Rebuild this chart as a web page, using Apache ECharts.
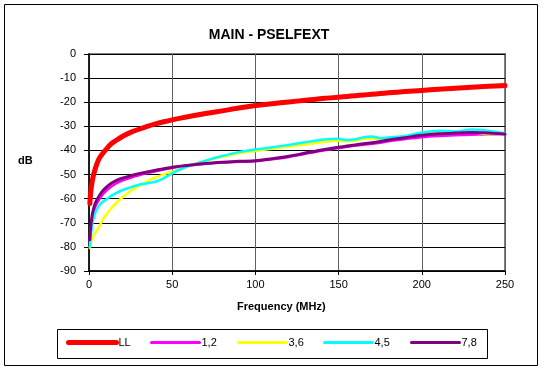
<!DOCTYPE html>
<html>
<head>
<meta charset="utf-8">
<script src="https://cdn.jsdelivr.net/npm/echarts@6/dist/echarts.min.js"></script>
<style>
html,body{margin:0;padding:0;background:#fff;}
#chart{width:543px;height:371px;}
</style>
</head>
<body>
<div id="chart"></div>
<script>
const freq = [0.5, 1, 2, 3, 4, 6, 8, 10, 13, 16, 20, 25, 30, 35, 40, 45, 50, 55, 60, 70, 80, 90, 100, 110, 120, 130, 140, 150, 155, 160, 165, 170, 175, 180, 190, 200, 210, 220, 230, 240, 250];
const ll = [-62, -57.5, -52.5, -49.5, -47, -43.5, -41.5, -39.8, -37.5, -36, -34.2, -32.5, -31.2, -30, -29, -28.1, -27.3, -26.6, -25.9, -24.7, -23.6, -22.4, -21.4, -20.6, -19.9, -19.2, -18.5, -17.9, -17.6, -17.3, -17.0, -16.7, -16.4, -16.1, -15.6, -15.1, -14.6, -14.2, -13.8, -13.4, -13.1];
const p12 = [-78, -73.5, -68, -65, -63, -60.5, -58.5, -57, -55.2, -53.8, -52.5, -51.3, -50.3, -49.4, -48.6, -47.9, -47.2, -46.7, -46.2, -45.5, -45, -44.7, -44.5, -43.7, -42.7, -41.4, -40.1, -39, -38.5, -38, -37.6, -37.2, -36.8, -36.2, -35.3, -34.5, -34, -33.7, -33.5, -33.3, -33.3];
const p36 = [-80.5, -78.5, -76.5, -75, -74, -71.8, -69, -67, -64.3, -62, -59.5, -56.8, -54.7, -52.8, -51.2, -49.9, -48.8, -47.6, -46.4, -44.3, -42.6, -41.2, -40.2, -39.3, -38.4, -37.5, -36.6, -36, -36.2, -36, -35.2, -35, -35.3, -35, -34.3, -33.2, -32.7, -32.6, -32.5, -33.2, -33];
const p45 = [-80, -76, -70.5, -67.5, -65.5, -63, -61.5, -60.5, -59, -57.8, -56.5, -55.3, -54.2, -53.6, -53, -51.5, -49.5, -47.8, -46.5, -44.2, -42.3, -40.7, -39.6, -38.7, -37.7, -36.6, -35.6, -35.2, -35.7, -35.4, -34.5, -34.2, -34.9, -34.6, -34, -32.6, -31.8, -32.1, -31.3, -31.8, -32.9];
const p78 = [-77, -72, -66.5, -63.5, -61.5, -59, -57, -55.5, -53.8, -52.6, -51.5, -50.5, -49.6, -48.9, -48.2, -47.6, -47, -46.5, -46.1, -45.4, -44.9, -44.5, -44.3, -43.4, -42.4, -41.1, -39.8, -38.7, -38.2, -37.7, -37.2, -36.8, -36.3, -35.7, -34.7, -33.7, -33.1, -32.8, -32.6, -32.8, -33.2];
const seriesNames = ['LL', '1,2', '3,6', '4,5', '7,8'];
const seriesValues = [ll, p12, p36, p45, p78];
const colors = ['#ff0000', '#ff00ff', '#ffff00', '#00ffff', '#800080'];
const widths = [5, 2.5, 2.5, 2.5, 3];
const legendWidths = [5, 3, 3, 3, 3];
const legendLeft = [66, 150, 237, 323, 410];
const xTicks = [0, 250, 50];
const yTicks = [-90, 0, 10];

const chart = echarts.init(document.getElementById('chart'), null, {renderer: 'canvas'});
const font = 'Arial, "Liberation Sans", sans-serif';

const series = seriesNames.map((name, i) => ({
  name: name,
  type: 'line',
  data: freq.map((f, j) => [f, seriesValues[i][j]]),
  smooth: 0.3,
  symbol: 'none',
  lineStyle: {color: colors[i], width: widths[i], cap: 'round', join: 'round'},
  itemStyle: {color: colors[i]},
  animation: false,
  z: 3 + i
}));

const legends = seriesNames.map((name, i) => ({
  data: [name],
  left: legendLeft[i],
  top: 337,
  itemWidth: 48,
  itemHeight: 12,
  itemGap: 0,
  lineStyle: {width: legendWidths[i], cap: 'round'},
  itemStyle: {opacity: 0},
  textStyle: {fontFamily: font, fontSize: 11, color: '#000', padding: [0, 0, 0, -3]},
  selectedMode: false,
  padding: 0
}));

chart.setOption({
  backgroundColor: '#fff',
  animation: false,
  title: {
    text: 'MAIN - PSELFEXT',
    left: 264, top: 23, textAlign: 'center',
    textStyle: {fontFamily: font, fontSize: 14, fontWeight: 'bold', color: '#000'}
  },
  legend: legends,
  grid: {left: 89, top: 54, width: 416, height: 217, show: true, borderColor: '#808080', borderWidth: 2, backgroundColor: 'transparent'},
  xAxis: {
    type: 'value', min: xTicks[0], max: xTicks[1], interval: xTicks[2],
    axisLine: {lineStyle: {color: '#000', width: 1.5}, onZero: false},
    axisTick: {show: true, length: 4, lineStyle: {color: '#000'}},
    axisLabel: {fontFamily: font, fontSize: 11, color: '#000', margin: 8},
    splitLine: {show: true, lineStyle: {color: '#606060', width: 1}}
  },
  yAxis: {
    type: 'value', min: yTicks[0], max: yTicks[1], interval: yTicks[2],
    axisLine: {show: true, lineStyle: {color: '#000', width: 1.5}},
    axisTick: {show: true, length: 5, lineStyle: {color: '#000'}},
    axisLabel: {fontFamily: font, fontSize: 11, color: '#000', margin: 13},
    splitLine: {show: true, lineStyle: {color: '#000', width: 1}}
  },
  graphic: [
    {type: 'rect', shape: {x: 4.5, y: 4.5, width: 533, height: 361}, style: {fill: 'none', stroke: '#000', lineWidth: 1}, z: -1},
    {type: 'rect', shape: {x: 57.5, y: 329.5, width: 430, height: 29}, style: {fill: 'none', stroke: '#000', lineWidth: 1}, z: 10},
    {type: 'text', left: 18, top: 155, style: {text: 'dB', font: 'bold 11px ' + font, fill: '#000'}},
    {type: 'text', left: 237, top: 301, style: {text: 'Frequency (MHz)', font: 'bold 11px ' + font, fill: '#000'}}
  ],
  series: series
});
</script>
</body>
</html>
